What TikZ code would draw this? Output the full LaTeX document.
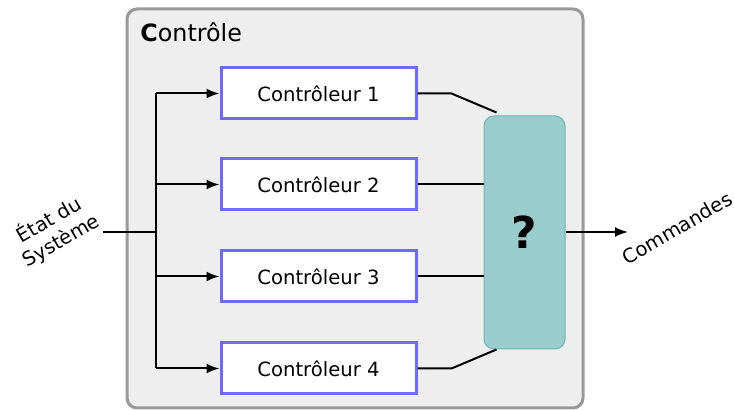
\documentclass[tikz,border=0pt]{standalone}
\usepackage{fontspec}
\setmainfont{DejaVu Sans}
\usetikzlibrary{positioning,calc,arrows.meta}
\definecolor{boxgray}{HTML}{EEEEEE}
\definecolor{rimgray}{HTML}{999999}
\definecolor{ctrlblue}{HTML}{6B6BFF}
\definecolor{tealfill}{HTML}{99CCCC}
\definecolor{tealrim}{HTML}{6DB6B6}
\tikzset{
    ctrlbox/.style={draw=ctrlblue, line width=1.5pt, fill=white, rectangle, minimum width=97.5pt, minimum height=25.5pt, font=\fontsize{9.8}{12}\selectfont},
    wire/.style={line width=1pt, black},
    arr/.style={wire, -{Latex[length=6.5pt,width=5pt]}},
    slanted/.style={rotate=30, align=center, font=\fontsize{9.8}{12}\selectfont}
}
\begin{document}
\begin{tikzpicture}[x=0.5pt, y=-0.5pt]
    \useasboundingbox (0,0) rectangle (734,410);

    % Controle frame
    \draw [draw=rimgray, fill=boxgray, line width=1.5pt, rounded corners=5pt] (127,9) rectangle (583,408);
    \node [anchor=base west, inner sep=0pt, font=\fontsize{11.9}{14}\selectfont] (title) at (140,42) {\textbf{C}ontrôle};

    % Controleurs
    \foreach \i/\y in {1/93.5, 2/184.5, 3/276.5, 4/368.5}
        \node [ctrlbox] (c\i) at (318.5,\y) {Contrôleur \i};

    % Arbitre
    \node [draw=tealrim, line width=0.5pt, fill=tealfill, rectangle, rounded corners=5pt, minimum width=40.5pt, minimum height=116.5pt, font=\fontsize{22}{26}\selectfont\bfseries] (fusion) at (524.5,232.5) {?};

    % Etat du systeme
    \coordinate (in) at (103,232);
    \coordinate (bus) at (156,232);
    \node [slanted] (etat) at (55,230) {État du\\Système};
    \draw [wire] (in) -- (bus);
    \draw [wire] (bus |- c1) -- (bus |- c4);
    \foreach \i in {1,...,4}
        \draw [arr] (bus |- c\i) -- (c\i);

    % Vers arbitre
    \draw [wire] (c1.east) -- ++(34,0) -- ($(fusion.north west)+(13,-3)$);
    \draw [wire] (c2.east) -- (c2.east -| fusion.west);
    \draw [wire] (c3.east) -- (c3.east -| fusion.west);
    \draw [wire] (c4.east) -- ++(34,0) -- ($(fusion.south west)+(13,0)$);

    % Commandes
    \coordinate (out) at (628,232);
    \draw [arr] (fusion.east |- out) -- (out);
    \node [slanted] (cmd) at (677,228) {Commandes};

\end{tikzpicture}
\end{document}
